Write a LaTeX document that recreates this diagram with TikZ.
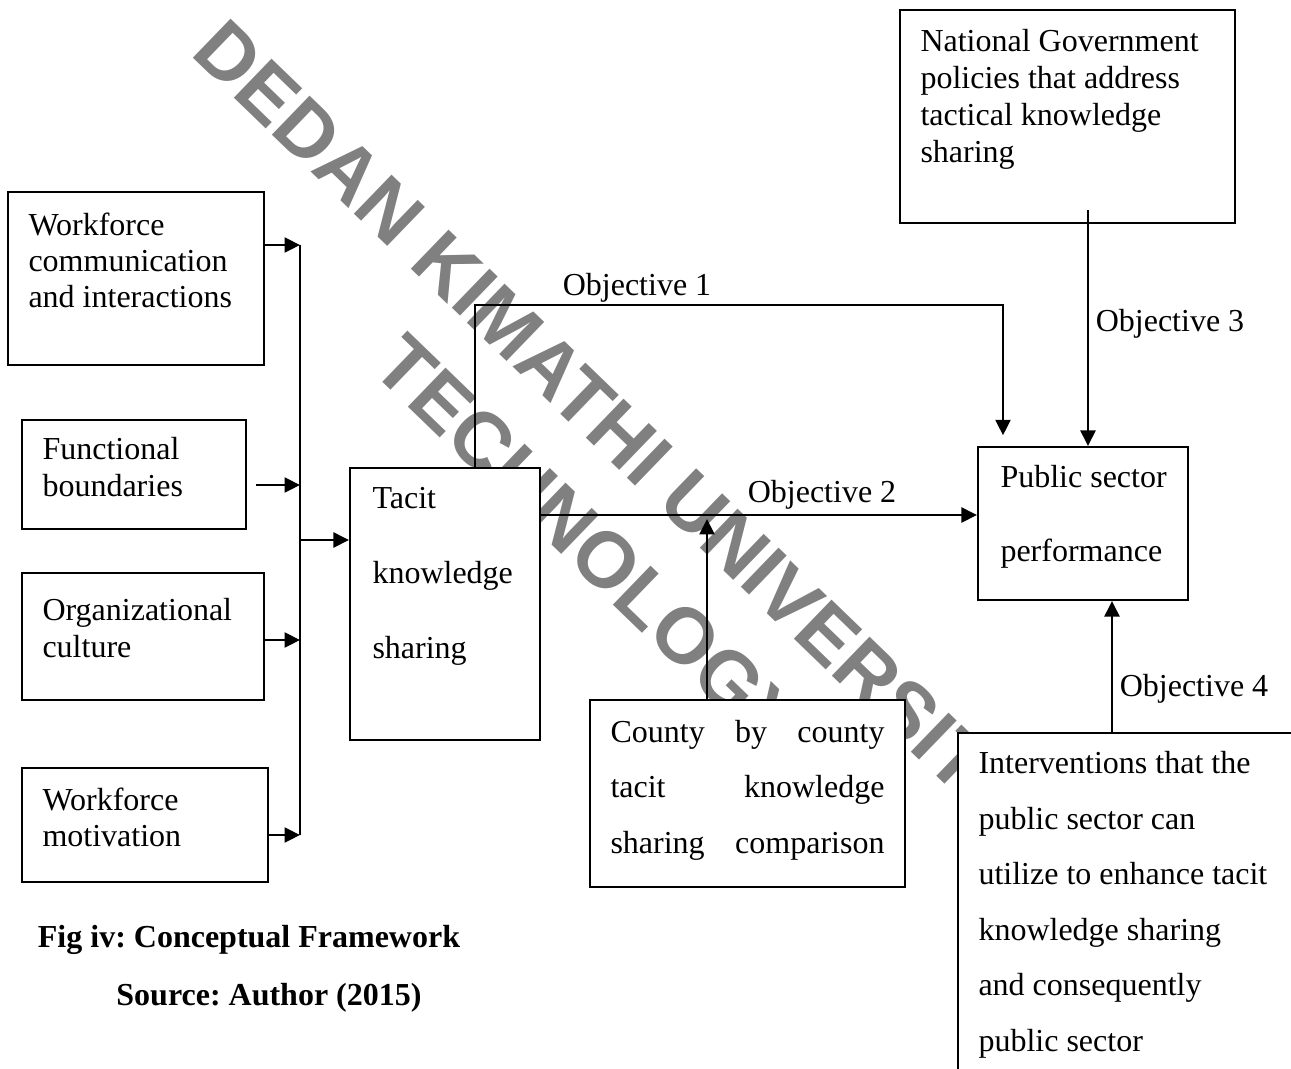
\documentclass[tikz,border=0pt]{standalone}
\usepackage{fontspec}
\setmainfont{Liberation Serif}
\newfontfamily\wmfont{Liberation Sans}
\usetikzlibrary{arrows.meta,fit,positioning}
\frenchspacing

\newcommand{\sz}[1]{\fontsize{12}{#1}\selectfont}

\tikzset{
  box/.style={draw, fill=white, line width=0.8pt, inner sep=0pt},
  txt/.style={inner sep=0pt, anchor=north west, align=left},
  lbl/.style={inner sep=0pt, font=\sz{14}},
  arr/.style={-{Triangle[length=5.8pt,width=5.6pt]}, line width=0.95pt},
  wmark/.style={text=gray, rotate=-44, anchor=base, inner sep=0pt,
    font=\wmfont\bfseries\fontsize{29.6}{38}\selectfont},
}

\begin{document}
\begin{tikzpicture}[x=0.375pt,y=-0.375pt]
        \useasboundingbox (0,0) rectangle (1291,1069);
        % Watermark
        \node[wmark] (wm1) at (640,490) {DEDAN KIMATHI UNIVERSITY OF};
        \node[wmark] (wm2) at (570,563) {TECHNOLOGY};
        % Boxes
        \node[box, fit={(8,192) (264,365)}] (wcomm) {};
        \node[box, fit={(22,420) (246,529)}] (funcb) {};
        \node[box, fit={(22,573) (264,700)}] (orgcult) {};
        \node[box, fit={(22,768) (268,882)}] (wmotiv) {};
        \node[box, fit={(350,468) (540,740)}] (tacit) {};
        \node[box, fit={(978,447) (1188,600)}] (public) {};
        \node[box, fit={(900,10) (1235,223)}] (natgov) {};
        \node[box, fit={(590,700) (905,887)}] (county) {};
        \node[box, fit={(958,733) (1320,1110)}] (interv) {};
        % Box texts
        \node[txt, font=\sz{13.5}] (wcommT) at (28,212) {Workforce\\communication\\and interactions};
        \node[txt, font=\sz{13.9}] (funcbT) at (42,437) {Functional\\boundaries};
        \node[txt, font=\sz{13.9}] (orgcultT) at (42,598) {Organizational\\culture};
        \node[txt, font=\sz{13.5}] (wmotivT) at (42,787) {Workforce\\motivation};
        \node[txt, font=\sz{28.1}] (tacitT) at (372,487) {Tacit\\knowledge\\sharing};
        \node[txt, font=\sz{27.8}] (publicT) at (1000,465) {Public sector\\performance};
        \node[txt, font=\sz{13.9}] (natgovT) at (920,29) {National Government\\policies that address\\tactical knowledge\\sharing};
        \node[txt, font=\sz{20.7}] (countyT) at (610,720) {\makebox[102.75pt][s]{County by county}\\\makebox[102.75pt][s]{tacit knowledge}\\\makebox[102.75pt][s]{sharing comparison}};
        \node[txt, font=\sz{20.8}] (intervT) at (978,751) {Interventions that the\\public sector can\\utilize to enhance tacit\\knowledge sharing\\and consequently\\public sector};
        % Labels
        \node[lbl] (obj1) at (637,288) {Objective 1};
        \node[lbl] (obj2) at (822,495) {Objective 2};
        \node[lbl] (obj3) at (1170,324) {Objective 3};
        \node[lbl] (obj4) at (1194,689) {Objective 4};
        \node[lbl, font=\sz{14}\bfseries] (cap) at (249,940) {Fig iv: Conceptual Framework};
        \node[lbl, font=\sz{14}\bfseries] (src) at (269,998) {Source: Author (2015)};
        % Bus on the left
        \coordinate (busT) at (300,245);
        \coordinate (busB) at (300,835);
        \coordinate (b2) at (300,485);
        \coordinate (b3) at (300,640);
        \coordinate (bm) at (300,540);
        \draw[line width=0.95pt] (busT) -- (busB);
        \draw[arr] (busT -| wcomm.east) -- (busT);
        \draw[arr] ([xshift=3.4pt]b2 -| funcb.east) -- (b2);
        \draw[arr] (b3 -| orgcult.east) -- (b3);
        \draw[arr] (busB -| wmotiv.east) -- (busB);
        \draw[arr] (bm) -- (bm -| tacit.west);
        % Objectives
        \coordinate (t1) at (475,305);
        \coordinate (o1) at (1003,305);
        \coordinate (o2) at (540,515);
        \coordinate (cj) at (707,519);
        \coordinate (o3) at (1088,210);
        \coordinate (o4) at (1112,604);
        \draw[arr] (t1 |- tacit.north) -- (t1) -- (o1) -- ([yshift=4pt]o1 |- public.north);
        \draw[arr] (o2) -- (o2 -| public.west);
        \draw[arr] (cj |- county.north) -- (cj);
        \draw[arr] (o3) -- (o3 |- public.north);
        \draw[arr] (o4 |- interv.north) -- (o4 |- public.south);
\end{tikzpicture}
\end{document}
